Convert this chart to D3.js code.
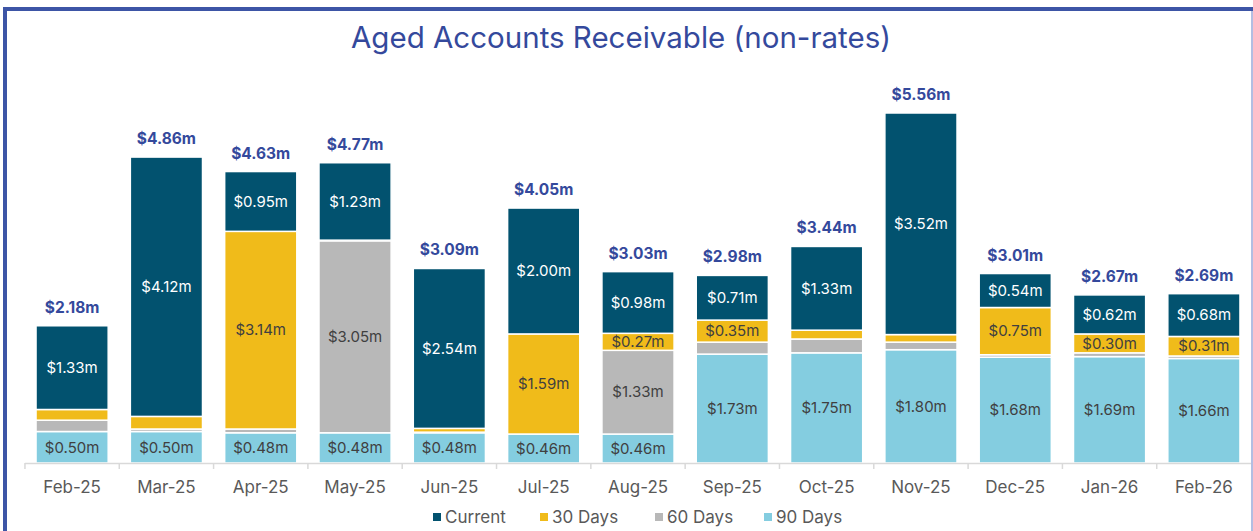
<!DOCTYPE html>
<html>
<head>
<meta charset="utf-8">
<script src="https://cdn.jsdelivr.net/npm/d3@7"></script>
<style>
  body { margin: 0; background: #fff; }
  svg { display: block; font-family: Inter, "Open Sans", sans-serif; }
</style>
</head>
<body>
<div id="chart"></div>
<script>
(function () {

    const months = ['Feb-25', 'Mar-25', 'Apr-25', 'May-25', 'Jun-25', 'Jul-25', 'Aug-25',
        'Sep-25', 'Oct-25', 'Nov-25', 'Dec-25', 'Jan-26', 'Feb-26'];

    const days90 = [0.50, 0.50, 0.48, 0.48, 0.48, 0.46, 0.46, 1.73, 1.75, 1.80, 1.68, 1.69, 1.66];
    const days60 = [0.18, 0.04, 0.06, 3.05, 0.01, 0.00, 1.33, 0.19, 0.22, 0.12, 0.04, 0.06, 0.04];
    const days30 = [0.17, 0.20, 3.14, 0.01, 0.06, 1.59, 0.27, 0.35, 0.14, 0.12, 0.75, 0.30, 0.31];
    const current = [1.33, 4.12, 0.95, 1.23, 2.54, 2.00, 0.98, 0.71, 1.33, 3.52, 0.54, 0.62, 0.68];
    const totals = [2.18, 4.86, 4.63, 4.77, 3.09, 4.05, 3.03, 2.98, 3.44, 5.56, 3.01, 2.67, 2.69];

    const seriesNames = ['Current', '30 Days', '60 Days', '90 Days'];

    const width = 1253;
    const height = 531;

    const svg = d3.select('#chart')
        .append('svg')
        .attr('width', width)
        .attr('height', height);

    // frame
    svg.append('line')
        .attr('x1', 3).attr('x2', width).attr('y1', 9).attr('y2', 9)
        .attr('stroke', '#3d55a6').attr('stroke-width', 4);
    svg.append('line')
        .attr('x1', 5).attr('x2', 5).attr('y1', 7).attr('y2', height)
        .attr('stroke', '#3d55a6').attr('stroke-width', 4);
    svg.append('line')
        .attr('x1', 1252).attr('x2', 1252).attr('y1', 11).attr('y2', height)
        .attr('stroke', '#9aa8d8').attr('stroke-width', 1.5);

    svg.append('text')
        .attr('x', 621)
        .attr('y', 48)
        .attr('text-anchor', 'middle')
        .attr('fill', '#34499c')
        .style('font-size', '29.5px')
        .text('Aged Accounts Receivable (non-rates)');

    const rows = months.map((m, i) => ({
        month: m,
        '90 Days': days90[i],
        '60 Days': days60[i],
        '30 Days': days30[i],
        'Current': current[i],
        total: totals[i]
    }));

    const x = d3.scaleBand()
        .domain(months)
        .range([25, 1251])
        .paddingInner(0.235)
        .paddingOuter(0.117);

    const y = d3.scaleLinear()
        .domain([0, 6])
        .range([463, 85.3]);

    const color = d3.scaleOrdinal()
        .domain(seriesNames)
        .range(['#02526f', '#f0bb1a', '#b8b8b8', '#84cde0']);

    const stack = d3.stack().keys(['90 Days', '60 Days', '30 Days', 'Current']);
    const stacked = stack(rows);

    const groups = svg.append('g')
        .selectAll('g')
        .data(stacked)
        .join('g')
        .attr('fill', d => color(d.key));

    groups.selectAll('rect')
        .data(d => d.map(p => Object.assign(p, { key: d.key })))
        .join('rect')
        .attr('x', d => x(d.data.month))
        .attr('width', x.bandwidth())
        .attr('y', d => y(d[1]))
        .attr('height', d => Math.max(0, y(d[0]) - y(d[1])))
        .attr('stroke', '#fff')
        .attr('stroke-width', d => (d[1] - d[0]) > 0 ? 1.5 : 0);

    // segment labels
    groups.selectAll('text')
        .data(d => d.filter(p => (p[1] - p[0]) >= 0.25))
        .join('text')
        .attr('x', d => x(d.data.month) + x.bandwidth() / 2)
        .attr('y', d => (y(d[0]) + y(d[1])) / 2)
        .attr('dy', '0.35em')
        .attr('text-anchor', 'middle')
        .attr('fill', d => d.key === 'Current' ? '#ffffff' : '#404040')
        .style('font-size', '15px')
        .text(d => '$' + (d[1] - d[0]).toFixed(2) + 'm');

    // totals
    svg.append('g')
        .selectAll('text')
        .data(rows)
        .join('text')
        .attr('x', d => x(d.month) + x.bandwidth() / 2)
        .attr('y', d => y(d.total) - 13)
        .attr('text-anchor', 'middle')
        .attr('fill', '#34499c')
        .style('font-size', '15.5px')
        .style('font-weight', 'bold')
        .text(d => '$' + d.total.toFixed(2) + 'm');

    // x axis
    const axis = svg.append('g');
    axis.append('line')
        .attr('x1', 25).attr('x2', 1251)
        .attr('y1', 463.5).attr('y2', 463.5)
        .attr('stroke', '#d9d9d9').attr('stroke-width', 1.5);

    const boundaries = months.map(m => x(m) - x.step() * x.paddingInner() / 2);
    axis.selectAll('.tick')
        .data(boundaries)
        .join('line')
        .attr('class', 'tick')
        .attr('x1', d => d).attr('x2', d => d)
        .attr('y1', 463).attr('y2', 469)
        .attr('stroke', '#d9d9d9').attr('stroke-width', 1.5);

    axis.selectAll('text')
        .data(months)
        .join('text')
        .attr('x', d => x(d) + x.bandwidth() / 2)
        .attr('y', 493)
        .attr('text-anchor', 'middle')
        .attr('fill', '#595959')
        .style('font-size', '17px')
        .text(d => d);

    // legend
    const legendX = [433, 540, 655, 764];
    const legend = svg.append('g')
        .selectAll('g')
        .data(seriesNames)
        .join('g')
        .attr('transform', (d, i) => 'translate(' + legendX[i] + ',517)');

    legend.append('rect')
        .attr('x', 0).attr('y', -4)
        .attr('width', 8).attr('height', 8)
        .attr('fill', d => color(d));

    legend.append('text')
        .attr('x', 12)
        .attr('dy', '0.35em')
        .attr('fill', '#595959')
        .style('font-size', '17px')
        .text(d => d);

})();
</script>
</body>
</html>
